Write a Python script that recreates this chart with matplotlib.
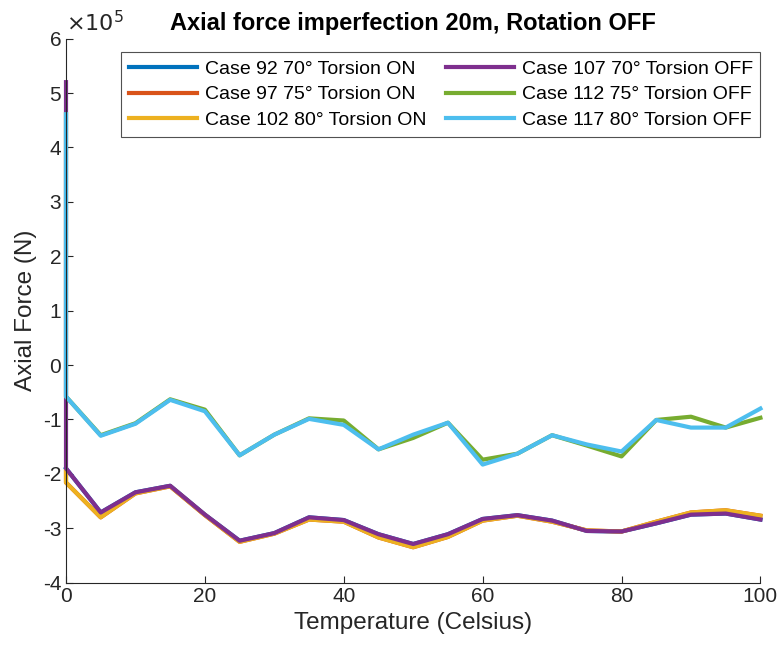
import matplotlib.pyplot as plt
from matplotlib.ticker import FuncFormatter

plt.rcParams['font.family'] = ['Liberation Sans', 'DejaVu Sans']
plt.rcParams['axes.unicode_minus'] = False

# temperature steps; the first step (0) appears twice: initial state, then settled value
temperature = [0, 0, 5, 10, 15, 20, 25, 30, 35, 40, 45, 50,
               55, 60, 65, 70, 75, 80, 85, 90, 95, 100]

# axial force, in units of 1e5 N
case92 = [-1.90, -1.90, -2.71, -2.34, -2.22, -2.75, -3.23, -3.09, -2.80, -2.85, -3.11,
          -3.29, -3.11, -2.83, -2.76, -2.86, -3.05, -3.06, -2.91, -2.75, -2.73, -2.84]
case97 = [-1.95, -2.16, -2.80, -2.36, -2.23, -2.76, -3.25, -3.10, -2.84, -2.88, -3.17,
          -3.35, -3.16, -2.86, -2.77, -2.88, -3.04, -3.06, -2.88, -2.71, -2.67, -2.77]
case102 = [-1.95, -2.16, -2.80, -2.36, -2.23, -2.76, -3.25, -3.10, -2.84, -2.88, -3.17,
           -3.35, -3.16, -2.86, -2.77, -2.88, -3.04, -3.06, -2.88, -2.71, -2.67, -2.77]
case107 = [5.20, -1.90, -2.71, -2.34, -2.22, -2.75, -3.23, -3.09, -2.80, -2.85, -3.11,
           -3.29, -3.11, -2.83, -2.76, -2.86, -3.05, -3.06, -2.91, -2.75, -2.73, -2.84]
case112 = [4.61, -0.58, -1.29, -1.07, -0.63, -0.82, -1.66, -1.28, -0.98, -1.02, -1.55,
           -1.34, -1.06, -1.74, -1.63, -1.29, -1.48, -1.68, -1.01, -0.95, -1.15, -0.97]
case117 = [4.61, -0.58, -1.30, -1.08, -0.64, -0.85, -1.66, -1.28, -0.99, -1.10, -1.55,
           -1.28, -1.06, -1.83, -1.63, -1.29, -1.46, -1.59, -1.01, -1.15, -1.15, -0.80]

series = [
    ("Case 92 70° Torsion ON", case92, "#0072BD"),
    ("Case 97 75° Torsion ON", case97, "#D95319"),
    ("Case 102 80° Torsion ON", case102, "#EDB120"),
    ("Case 107 70° Torsion OFF", case107, "#7E2F8E"),
    ("Case 112 75° Torsion OFF", case112, "#77AC30"),
    ("Case 117 80° Torsion OFF", case117, "#4DBEEE"),
]

fig = plt.figure(figsize=(7.82, 6.57), dpi=100)
ax = fig.add_axes([0.0844, 0.1132, 0.888, 0.828])

for label, vals, color in series:
    ax.plot(temperature, [v * 1e5 for v in vals], color=color, linewidth=3,
            label=label, clip_on=False)

ax.set_xlim(0, 100)
ax.set_ylim(-4e5, 6e5)
ax.set_xticks(range(0, 101, 20))
ax.set_yticks([i * 1e5 for i in range(-4, 7)])

# MATLAB style exponent label: plain hyphen ticks and a separate x10^5 note
ax.yaxis.set_major_formatter(FuncFormatter(lambda v, pos: "%g" % (v / 1e5)))
ax.text(0.0, 1.005, r"$\times10^5$", transform=ax.transAxes, fontsize=16,
        color="#262626", ha="left", va="bottom")

for s in ["top", "right"]:
    ax.spines[s].set_visible(False)
for s in ["left", "bottom"]:
    ax.spines[s].set_color("#262626")
    ax.spines[s].set_linewidth(0.8)
ax.tick_params(direction="in", length=5, labelsize=15, colors="#262626")

ax.set_xlabel("Temperature (Celsius)", fontsize=17.5, color="#262626")
ax.set_ylabel("Axial Force (N)", fontsize=17.5, color="#262626")
ax.set_title("Axial force imperfection 20m, Rotation OFF", fontsize=17, fontweight="bold")

leg = ax.legend(loc="upper right", bbox_to_anchor=(1.0, 0.975), borderaxespad=0,
                ncol=2, fontsize=14, frameon=True, fancybox=False,
                edgecolor="#262626", handlelength=3.5, handletextpad=0.4,
                columnspacing=1.0, labelspacing=0.42)
leg.get_frame().set_linewidth(0.8)

plt.savefig("out.png", dpi=100)
